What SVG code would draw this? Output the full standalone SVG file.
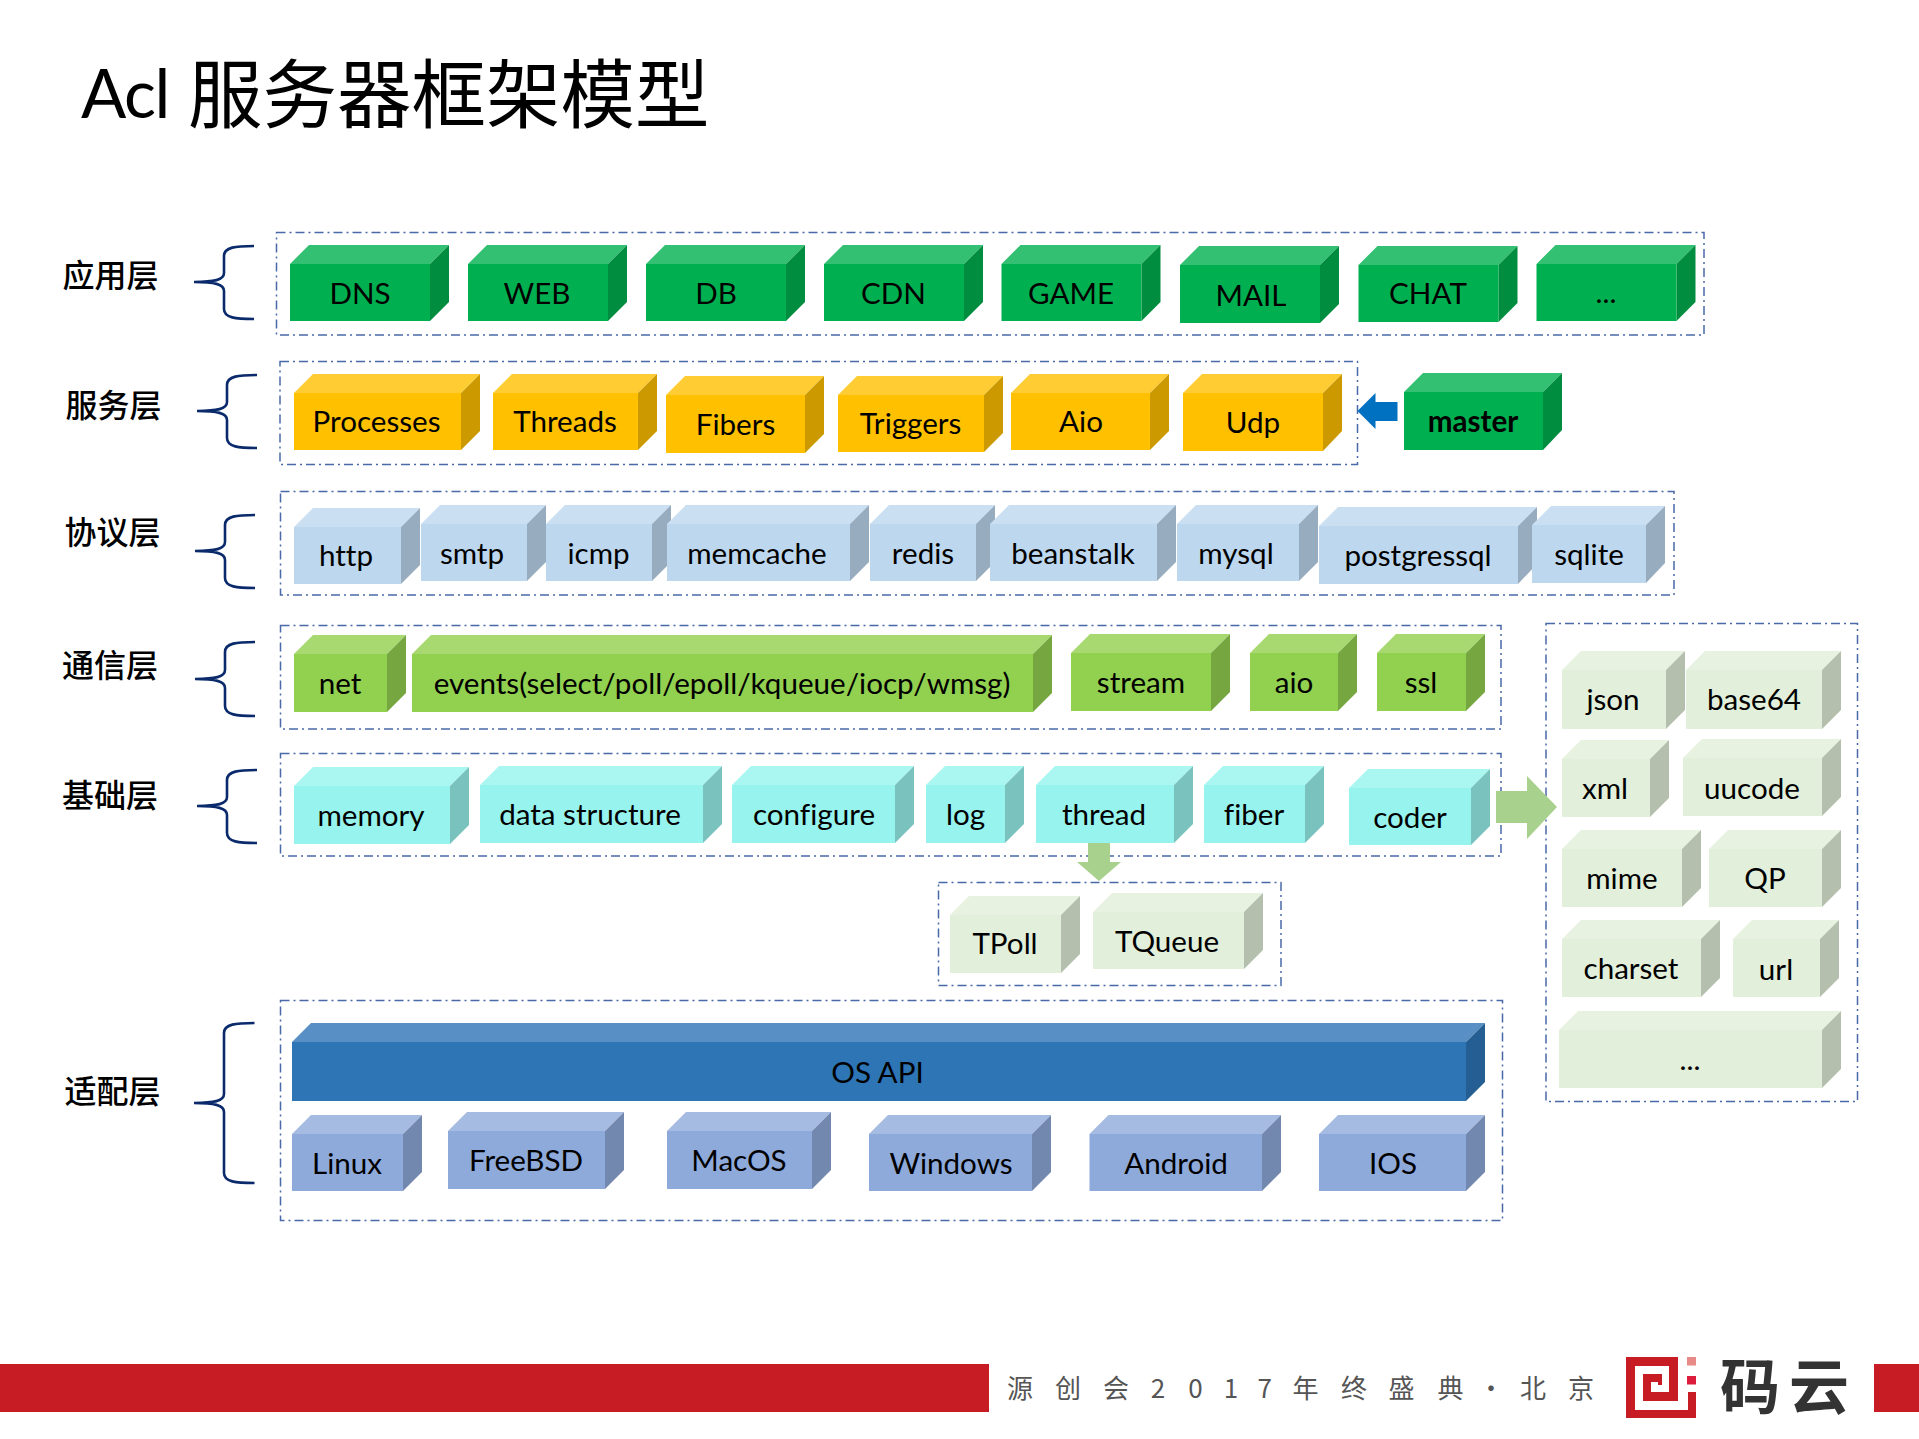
<svg xmlns="http://www.w3.org/2000/svg" width="1919" height="1439" viewBox="0 0 1919 1439">
<style>
text{font-family:"Lato","Liberation Sans","Noto Sans CJK SC",sans-serif;fill:#000;font-size:29.600px;text-anchor:middle;font-variant-ligatures:none}
.lab{font-family:"Noto Sans CJK SC",sans-serif;font-size:32px;font-weight:500;fill:#000}
.b{fill:none;stroke:#4a69a8;stroke-width:1.500;stroke-dasharray:9 4 2 4}
.br{fill:none;stroke:#0a2a6b;stroke-width:2.600}
.g .t{fill:#33c073}.g .s{fill:#008d40}.g .f{fill:#00b050}
.y .t{fill:#ffcd33}.y .s{fill:#cc9a00}.y .f{fill:#ffc000}
.l .t{fill:#cadff1}.l .s{fill:#97acbe}.l .f{fill:#bdd7ee}
.m .t{fill:#a8d970}.m .s{fill:#75a640}.m .f{fill:#92d050}
.c .t{fill:#aaf6f1}.c .s{fill:#79c2be}.c .f{fill:#97f3ed}
.p .t{fill:#e8f2e1}.p .s{fill:#b5bfae}.p .f{fill:#e2efda}
.o .t{fill:#5890c5}.o .s{fill:#255e92}.o .f{fill:#2e75b6}
.v .t{fill:#a5bbe2}.v .s{fill:#7288af}.v .f{fill:#8eaadb}
</style>
<rect width="1919" height="1439" fill="#fff"/>
<g id="title">
<text x="81" y="118" style="font-size:67px;letter-spacing:-1.500px;text-anchor:start">Acl</text>
<text x="188" y="122" style="font-family:'Noto Sans CJK SC',sans-serif;font-size:74.500px;text-anchor:start">服务器框架模型</text>
</g>
<g id="layer-labels">
<text class="lab" x="110.600" y="287">应用层</text>
<text class="lab" x="113.500" y="417">服务层</text>
<text class="lab" x="112.600" y="544">协议层</text>
<text class="lab" x="110" y="677">通信层</text>
<text class="lab" x="110" y="807">基础层</text>
<text class="lab" x="112.600" y="1103">适配层</text>
</g>
<g id="braces">
<path class="br" d="M254 246C236 246 224 247 224 256V273C224 280 214 282 194 282C214 282 224 284 224 291V309C224 318 236 319 254 319"/>
<path class="br" d="M257 375C239 375 227 376 227 385V402C227 409 217 411 197 411C217 411 227 413 227 420V438C227 447 239 448 257 448"/>
<path class="br" d="M255 515C237 515 225 516 225 525V542C225 549 215 551 195 551C215 551 225 553 225 560V578C225 587 237 588 255 588"/>
<path class="br" d="M255 642C237 642 225 643 225 652V670C225 677 215 679 195 679C215 679 225 681 225 688V706C225 715 237 716 255 716"/>
<path class="br" d="M257 770C239 770 227 771 227 780V797C227 804 217 806 197 806C217 806 227 808 227 815V833C227 842 239 843 257 843"/>
<path class="br" d="M254.500 1023C236 1023 224 1024 224 1033V1094C224 1101 214 1103 194 1103C214 1103 224 1105 224 1112V1173C224 1182 236 1183 254.500 1183"/>
</g>
<g id="containers">
<rect class="b" x="276.500" y="232.500" width="1427.500" height="102.500"/>
<rect class="b" x="280" y="361.500" width="1077.500" height="103"/>
<rect class="b" x="280.500" y="491.500" width="1393.500" height="103.500"/>
<rect class="b" x="280.500" y="625.500" width="1220.500" height="103.500"/>
<rect class="b" x="280.500" y="753.500" width="1220.500" height="102.500"/>
<rect class="b" x="938.500" y="882.500" width="342.500" height="103"/>
<rect class="b" x="280.500" y="1000.500" width="1222" height="220"/>
<rect class="b" x="1546" y="623.500" width="311.500" height="478"/>
</g>
<g id="connectors">
<polygon fill="#0070c0" points="1357.500,411 1375.500,393 1375.500,402 1397.500,402 1397.500,421 1375.500,421 1375.500,429"/>
<polygon fill="#a9d18e" points="1088,842 1110,842 1110,862 1121,862 1099,881 1077,862 1088,862"/>
<polygon fill="#a9d18e" points="1496,791 1527,791 1527,776 1557,807 1527,839 1527,823 1496,823"/>
</g>
<g id="n-dns" class="g"><polygon class="t" points="290,264 309,245 449,245 430,264"/><polygon class="s" points="430,264 449,245 449,302 430,321"/><rect class="f" x="290" y="264" width="140" height="57"/><text x="360" y="304">DNS</text></g>
<g id="n-web" class="g"><polygon class="t" points="468,264 487,245 627,245 608,264"/><polygon class="s" points="608,264 627,245 627,302 608,321"/><rect class="f" x="468" y="264" width="140" height="57"/><text x="537" y="304">WEB</text></g>
<g id="n-db" class="g"><polygon class="t" points="646,264 665,245 805,245 786,264"/><polygon class="s" points="786,264 805,245 805,302 786,321"/><rect class="f" x="646" y="264" width="140" height="57"/><text x="716" y="304">DB</text></g>
<g id="n-cdn" class="g"><polygon class="t" points="824,264 843,245 983,245 964,264"/><polygon class="s" points="964,264 983,245 983,302 964,321"/><rect class="f" x="824" y="264" width="140" height="57"/><text x="893.500" y="304">CDN</text></g>
<g id="n-game" class="g"><polygon class="t" points="1001.500,264 1020.500,245 1160.500,245 1141.500,264"/><polygon class="s" points="1141.500,264 1160.500,245 1160.500,302 1141.500,321"/><rect class="f" x="1001.500" y="264" width="140" height="57"/><text x="1071" y="304">GAME</text></g>
<g id="n-mail" class="g"><polygon class="t" points="1180,265 1199,246 1339,246 1320,265"/><polygon class="s" points="1320,265 1339,246 1339,304 1320,323"/><rect class="f" x="1180" y="265" width="140" height="58"/><text x="1251" y="306">MAIL</text></g>
<g id="n-chat" class="g"><polygon class="t" points="1358.500,265 1377.500,246 1517.500,246 1498.500,265"/><polygon class="s" points="1498.500,265 1517.500,246 1517.500,303 1498.500,322"/><rect class="f" x="1358.500" y="265" width="140" height="57"/><text x="1428" y="304">CHAT</text></g>
<g id="n-more1" class="g"><polygon class="t" points="1536.500,264 1555.500,245 1695.500,245 1676.500,264"/><polygon class="s" points="1676.500,264 1695.500,245 1695.500,302 1676.500,321"/><rect class="f" x="1536.500" y="264" width="140" height="57"/><text x="1606" y="303">...</text></g>
<g id="n-processes" class="y"><polygon class="t" points="294,393 313,374 480,374 461,393"/><polygon class="s" points="461,393 480,374 480,431 461,450"/><rect class="f" x="294" y="393" width="167" height="57"/><text x="376.500" y="432">Processes</text></g>
<g id="n-threads" class="y"><polygon class="t" points="493,393 512,374 657,374 638,393"/><polygon class="s" points="638,393 657,374 657,431 638,450"/><rect class="f" x="493" y="393" width="145" height="57"/><text x="565" y="432">Threads</text></g>
<g id="n-fibers" class="y"><polygon class="t" points="666,395 685,376 824,376 805,395"/><polygon class="s" points="805,395 824,376 824,434 805,453"/><rect class="f" x="666" y="395" width="139" height="58"/><text x="735.500" y="435">Fibers</text></g>
<g id="n-triggers" class="y"><polygon class="t" points="838,395 857,376 1003,376 984,395"/><polygon class="s" points="984,395 1003,376 1003,433 984,452"/><rect class="f" x="838" y="395" width="146" height="57"/><text x="910.500" y="434">Triggers</text></g>
<g id="n-aio1" class="y"><polygon class="t" points="1011,393 1030,374 1169,374 1150,393"/><polygon class="s" points="1150,393 1169,374 1169,431 1150,450"/><rect class="f" x="1011" y="393" width="139" height="57"/><text x="1081" y="432">Aio</text></g>
<g id="n-udp" class="y"><polygon class="t" points="1183,393 1202,374 1342,374 1323,393"/><polygon class="s" points="1323,393 1342,374 1342,431 1323,451"/><rect class="f" x="1183" y="393" width="140" height="58"/><text x="1253" y="433">Udp</text></g>
<g id="n-master" class="g"><polygon class="t" points="1404,392 1423,373 1562,373 1543,392"/><polygon class="s" points="1543,392 1562,373 1562,430 1543,450"/><rect class="f" x="1404" y="392" width="139" height="58"/><text x="1473" y="432" font-weight="700">master</text></g>
<g id="n-http" class="l"><polygon class="t" points="294,527 313,508 420,508 401,527"/><polygon class="s" points="401,527 420,508 420,565 401,584"/><rect class="f" x="294" y="527" width="107" height="57"/><text x="346" y="566">http</text></g>
<g id="n-smtp" class="l"><polygon class="t" points="421,524 440,505 546,505 527,524"/><polygon class="s" points="527,524 546,505 546,562 527,581"/><rect class="f" x="421" y="524" width="106" height="57"/><text x="472" y="564">smtp</text></g>
<g id="n-icmp" class="l"><polygon class="t" points="546,524 565,505 671,505 652,524"/><polygon class="s" points="652,524 671,505 671,562 652,581"/><rect class="f" x="546" y="524" width="106" height="57"/><text x="598.500" y="564">icmp</text></g>
<g id="n-memcache" class="l"><polygon class="t" points="667,524 686,505 869,505 850,524"/><polygon class="s" points="850,524 869,505 869,562 850,581"/><rect class="f" x="667" y="524" width="183" height="57"/><text x="757" y="564">memcache</text></g>
<g id="n-redis" class="l"><polygon class="t" points="870,524 889,505 995,505 976,524"/><polygon class="s" points="976,524 995,505 995,562 976,581"/><rect class="f" x="870" y="524" width="106" height="57"/><text x="923" y="564">redis</text></g>
<g id="n-beanstalk" class="l"><polygon class="t" points="990,524 1009,505 1176,505 1157,524"/><polygon class="s" points="1157,524 1176,505 1176,562 1157,581"/><rect class="f" x="990" y="524" width="167" height="57"/><text x="1073" y="564">beanstalk</text></g>
<g id="n-mysql" class="l"><polygon class="t" points="1177,524 1196,505 1318,505 1299,524"/><polygon class="s" points="1299,524 1318,505 1318,562 1299,581"/><rect class="f" x="1177" y="524" width="122" height="57"/><text x="1236" y="564">mysql</text></g>
<g id="n-postgressql" class="l"><polygon class="t" points="1319,526 1338,507 1537,507 1518,526"/><polygon class="s" points="1518,526 1537,507 1537,564 1518,584"/><rect class="f" x="1319" y="526" width="199" height="58"/><text x="1418" y="566">postgressql</text></g>
<g id="n-sqlite" class="l"><polygon class="t" points="1532,525 1551,506 1665,506 1646,525"/><polygon class="s" points="1646,525 1665,506 1665,563 1646,583"/><rect class="f" x="1532" y="525" width="114" height="58"/><text x="1589" y="565">sqlite</text></g>
<g id="n-net" class="m"><polygon class="t" points="294,654 313,635 406,635 387,654"/><polygon class="s" points="387,654 406,635 406,693 387,712"/><rect class="f" x="294" y="654" width="93" height="58"/><text x="340" y="694">net</text></g>
<g id="n-events" class="m"><polygon class="t" points="412,654 431,635 1052,635 1033,654"/><polygon class="s" points="1033,654 1052,635 1052,693 1033,712"/><rect class="f" x="412" y="654" width="621" height="58"/><text x="722" y="694">events(select/poll/epoll/kqueue/iocp/wmsg)</text></g>
<g id="n-stream" class="m"><polygon class="t" points="1071,653 1090,634 1230,634 1211,653"/><polygon class="s" points="1211,653 1230,634 1230,692 1211,711"/><rect class="f" x="1071" y="653" width="140" height="58"/><text x="1141" y="693">stream</text></g>
<g id="n-aio2" class="m"><polygon class="t" points="1250,653 1269,634 1357,634 1338,653"/><polygon class="s" points="1338,653 1357,634 1357,692 1338,711"/><rect class="f" x="1250" y="653" width="88" height="58"/><text x="1294" y="693">aio</text></g>
<g id="n-ssl" class="m"><polygon class="t" points="1377,653 1396,634 1485,634 1466,653"/><polygon class="s" points="1466,653 1485,634 1485,692 1466,711"/><rect class="f" x="1377" y="653" width="89" height="58"/><text x="1421" y="693">ssl</text></g>
<g id="n-memory" class="c"><polygon class="t" points="294,786 313,767 469,767 450,786"/><polygon class="s" points="450,786 469,767 469,825 450,844"/><rect class="f" x="294" y="786" width="156" height="58"/><text x="371" y="826">memory</text></g>
<g id="n-datastructure" class="c"><polygon class="t" points="480,785 499,766 722,766 703,785"/><polygon class="s" points="703,785 722,766 722,824 703,843"/><rect class="f" x="480" y="785" width="223" height="58"/><text x="590" y="825">data structure</text></g>
<g id="n-configure" class="c"><polygon class="t" points="732,785 751,766 914,766 895,785"/><polygon class="s" points="895,785 914,766 914,824 895,843"/><rect class="f" x="732" y="785" width="163" height="58"/><text x="814" y="825">configure</text></g>
<g id="n-log" class="c"><polygon class="t" points="926,785 945,766 1024,766 1005,785"/><polygon class="s" points="1005,785 1024,766 1024,824 1005,843"/><rect class="f" x="926" y="785" width="79" height="58"/><text x="965.500" y="825">log</text></g>
<g id="n-thread" class="c"><polygon class="t" points="1036,785 1055,766 1193,766 1174,785"/><polygon class="s" points="1174,785 1193,766 1193,824 1174,843"/><rect class="f" x="1036" y="785" width="138" height="58"/><text x="1104" y="825">thread</text></g>
<g id="n-fiber" class="c"><polygon class="t" points="1204,785 1223,766 1324,766 1305,785"/><polygon class="s" points="1305,785 1324,766 1324,824 1305,843"/><rect class="f" x="1204" y="785" width="101" height="58"/><text x="1254" y="825">fiber</text></g>
<g id="n-coder" class="c"><polygon class="t" points="1349,788 1368,769 1490,769 1471,788"/><polygon class="s" points="1471,788 1490,769 1490,826 1471,845"/><rect class="f" x="1349" y="788" width="122" height="57"/><text x="1410" y="827.500">coder</text></g>
<g id="n-tpoll" class="p"><polygon class="t" points="950,915 969,896 1080,896 1061,915"/><polygon class="s" points="1061,915 1080,896 1080,954 1061,973"/><rect class="f" x="950" y="915" width="111" height="58"/><text x="1005" y="954">TPoll</text></g>
<g id="n-tqueue" class="p"><polygon class="t" points="1093,912 1112,893 1263,893 1244,912"/><polygon class="s" points="1244,912 1263,893 1263,950 1244,969"/><rect class="f" x="1093" y="912" width="151" height="57"/><text x="1167" y="951.500">TQueue</text></g>
<g id="n-osapi" class="o"><polygon class="t" points="292,1042 311,1023 1485,1023 1466,1042"/><polygon class="s" points="1466,1042 1485,1023 1485,1082 1466,1101"/><rect class="f" x="292" y="1042" width="1174" height="59"/><text x="877.500" y="1083">OS API</text></g>
<g id="n-linux" class="v"><polygon class="t" points="292,1134 311,1115 422,1115 403,1134"/><polygon class="s" points="403,1134 422,1115 422,1172 403,1191"/><rect class="f" x="292" y="1134" width="111" height="57"/><text x="347" y="1174">Linux</text></g>
<g id="n-freebsd" class="v"><polygon class="t" points="448,1131 467,1112 624,1112 605,1131"/><polygon class="s" points="605,1131 624,1112 624,1170 605,1189"/><rect class="f" x="448" y="1131" width="157" height="58"/><text x="526" y="1171">FreeBSD</text></g>
<g id="n-macos" class="v"><polygon class="t" points="667,1131 686,1112 831,1112 812,1131"/><polygon class="s" points="812,1131 831,1112 831,1170 812,1189"/><rect class="f" x="667" y="1131" width="145" height="58"/><text x="739" y="1171">MacOS</text></g>
<g id="n-windows" class="v"><polygon class="t" points="869,1134 888,1115 1051,1115 1032,1134"/><polygon class="s" points="1032,1134 1051,1115 1051,1172 1032,1191"/><rect class="f" x="869" y="1134" width="163" height="57"/><text x="951" y="1174">Windows</text></g>
<g id="n-android" class="v"><polygon class="t" points="1089.500,1134 1108.500,1115 1281,1115 1262,1134"/><polygon class="s" points="1262,1134 1281,1115 1281,1172 1262,1191"/><rect class="f" x="1089.500" y="1134" width="172.500" height="57"/><text x="1176" y="1174">Android</text></g>
<g id="n-ios" class="v"><polygon class="t" points="1319,1134 1338,1115 1485,1115 1466,1134"/><polygon class="s" points="1466,1134 1485,1115 1485,1172 1466,1191"/><rect class="f" x="1319" y="1134" width="147" height="57"/><text x="1393" y="1174">IOS</text></g>
<g id="n-json" class="p"><polygon class="t" points="1562,670 1581,651 1685,651 1666,670"/><polygon class="s" points="1666,670 1685,651 1685,710 1666,729"/><rect class="f" x="1562" y="670" width="104" height="59"/><text x="1613" y="710">json</text></g>
<g id="n-base64" class="p"><polygon class="t" points="1686,670 1705,651 1841,651 1822,670"/><polygon class="s" points="1822,670 1841,651 1841,710 1822,729"/><rect class="f" x="1686" y="670" width="136" height="59"/><text x="1754" y="710">base64</text></g>
<g id="n-xml" class="p"><polygon class="t" points="1562,759 1581,740 1669,740 1650,759"/><polygon class="s" points="1650,759 1669,740 1669,798 1650,817"/><rect class="f" x="1562" y="759" width="88" height="58"/><text x="1605" y="799">xml</text></g>
<g id="n-uucode" class="p"><polygon class="t" points="1683,758 1702,739 1841,739 1822,758"/><polygon class="s" points="1822,758 1841,739 1841,797 1822,816"/><rect class="f" x="1683" y="758" width="139" height="58"/><text x="1752" y="799">uucode</text></g>
<g id="n-mime" class="p"><polygon class="t" points="1562,849 1581,830 1701,830 1682,849"/><polygon class="s" points="1682,849 1701,830 1701,888 1682,907"/><rect class="f" x="1562" y="849" width="120" height="58"/><text x="1622" y="889">mime</text></g>
<g id="n-qp" class="p"><polygon class="t" points="1709,849 1728,830 1841,830 1822,849"/><polygon class="s" points="1822,849 1841,830 1841,888 1822,907"/><rect class="f" x="1709" y="849" width="113" height="58"/><text x="1765" y="889">QP</text></g>
<g id="n-charset" class="p"><polygon class="t" points="1562,939 1581,920 1720,920 1701,939"/><polygon class="s" points="1701,939 1720,920 1720,978 1701,997"/><rect class="f" x="1562" y="939" width="139" height="58"/><text x="1631" y="979">charset</text></g>
<g id="n-url" class="p"><polygon class="t" points="1733,939 1752,920 1839,920 1820,939"/><polygon class="s" points="1820,939 1839,920 1839,978 1820,997"/><rect class="f" x="1733" y="939" width="87" height="58"/><text x="1776" y="980">url</text></g>
<g id="n-more2" class="p"><polygon class="t" points="1559,1030 1578,1011 1841,1011 1822,1030"/><polygon class="s" points="1822,1030 1841,1011 1841,1069 1822,1088"/><rect class="f" x="1559" y="1030" width="263" height="58"/><text x="1690" y="1070">...</text></g>
<g id="footer">
<rect x="0" y="1364" width="989" height="48" fill="#c81c24"/>
<rect x="1874" y="1364" width="45" height="48" fill="#c81c24"/>
<text x="1020 1068 1116 1158 1195.500 1231 1264.600 1305.600 1354 1401.600 1450.500 1491 1533 1581" y="1398" style="font-family:'Noto Sans CJK SC',sans-serif;font-size:26px;font-weight:400;fill:#555">源创会2017年终盛典·北京</text>
<polygon fill="#c81c24" points="1626,1357 1678,1357 1678,1401 1643,1401 1643,1374 1662,1374 1662,1385 1658,1385 1658,1382 1651,1382 1651,1392 1669,1392 1669,1366 1635,1366 1635,1410 1688,1410 1688,1392 1696,1392 1696,1418 1626,1418"/>
<rect x="1687" y="1357" width="9" height="8.500" fill="#e88a88"/>
<rect x="1687" y="1376" width="9" height="8.500" fill="#dc1e3c"/>
<text x="1750" y="1409" style="font-family:'Noto Sans CJK SC',sans-serif;font-size:60px;font-weight:700;fill:#333">码</text>
<text x="1819" y="1409" style="font-family:'Noto Sans CJK SC',sans-serif;font-size:60px;font-weight:700;fill:#333">云</text>
</g>
</svg>
